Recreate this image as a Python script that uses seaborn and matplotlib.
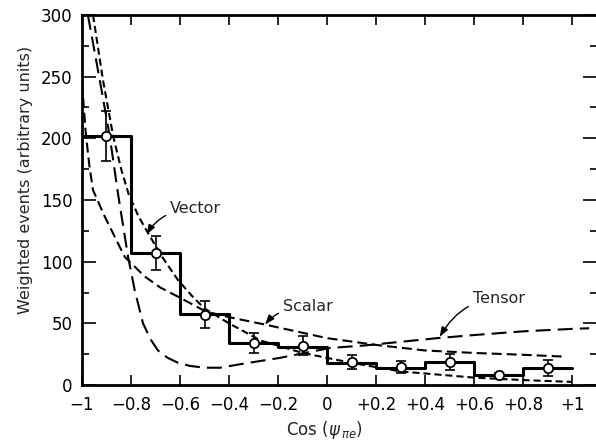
import numpy as np
import pandas as pd
import matplotlib
matplotlib.use("Agg")
import matplotlib.pyplot as plt
import seaborn as sns

# ---------------- data ----------------
bin_edges = [-1.0, -0.8, -0.6, -0.4, -0.2, 0.0, 0.2, 0.4, 0.6, 0.8, 1.0]
bin_centers = [-0.9, -0.7, -0.5, -0.3, -0.1, 0.1, 0.3, 0.5, 0.7, 0.9]
hist_values = [202, 107, 57.5, 34, 31, 18, 14, 18.5, 8, 14]

point_values = [202, 107, 57, 34, 32, 18.5, 14.5, 18.5, 8, 14]
point_errors = [20, 14, 11, 8, 8, 5.5, 5, 6.5, 2, 6.5]

vector_x = [-0.955, -0.915, -0.873, -0.84, -0.81, -0.77, -0.73, -0.67, -0.608,
            -0.55, -0.5, -0.4, -0.27, -0.1, 0.1, 0.3, 0.6, 0.8, 1.0]
vector_y = [300, 248, 202, 175, 155, 137, 123, 103, 85, 72, 62, 50, 36, 26, 18,
            11, 6, 4, 2.5]

scalar_x = [-1.0, -0.985, -0.97, -0.955, -0.907, -0.826, -0.744, -0.68, -0.608,
            -0.494, -0.4, -0.253, 0.0, 0.2, 0.4, 0.6, 0.8, 0.97]
scalar_y = [245, 205, 178, 158, 136.5, 104, 88, 79, 71.6, 59.5, 55, 49, 38,
            32.5, 28, 26, 24.5, 23]

tensor_x = [-0.976, -0.93, -0.887, -0.853, -0.812, -0.785, -0.751, -0.72, -0.69,
            -0.65, -0.608, -0.56, -0.5, -0.437, -0.35, -0.192, 0.012, 0.15,
            0.3, 0.45, 0.6, 0.8, 1.0, 1.07]
tensor_y = [300, 250, 202, 155, 104, 77, 50, 37, 28, 22, 18, 15.5, 14, 14, 17,
            22, 30, 32, 35, 38, 40.5, 43.5, 45.5, 46]

x_ticks = [-1, -0.8, -0.6, -0.4, -0.2, 0, 0.2, 0.4, 0.6, 0.8, 1]
x_ticklabels = ["\u22121", "\u22120.8", "\u22120.6", "\u22120.4", "\u22120.2", "0",
                "+0.2", "+0.4", "+0.6", "+0.8", "+1"]
y_ticks = [0, 50, 100, 150, 200, 250, 300]

# ---------------- style ----------------
sns.set_theme(style="ticks")
plt.rcParams["font.family"] = ["DejaVu Sans"]
plt.rcParams["mathtext.fontset"] = "dejavusans"

fig = plt.figure(figsize=(5.96, 4.40), dpi=100)
ax = fig.add_axes([82 / 596, 55 / 440, (596.5 - 82) / 596, 370 / 440])

# histogram outline
sns.histplot(x=bin_centers, weights=hist_values, bins=bin_edges, element="step",
             fill=False, color="black", linewidth=2.2, ax=ax)

# theory curves
sns.lineplot(x=vector_x, y=vector_y, sort=False, color="black", linewidth=1.5,
             linestyle=(0, (3.4, 1.9)), ax=ax)
sns.lineplot(x=scalar_x, y=scalar_y, sort=False, color="black", linewidth=1.5,
             linestyle=(0, (4.8, 2.4)), ax=ax)
sns.lineplot(x=tensor_x, y=tensor_y, sort=False, color="black", linewidth=1.5,
             linestyle=(0, (7.2, 3.4)), ax=ax)

# data points with error bars
ax.errorbar(bin_centers, point_values, yerr=point_errors, fmt="none",
            ecolor="black", elinewidth=1.2, capsize=3.5, capthick=1.2, zorder=4)
sns.scatterplot(x=bin_centers, y=point_values, s=45, color="white",
                edgecolor="black", linewidth=1.3, zorder=5, ax=ax)

# annotations
arrow = dict(arrowstyle="-|>,head_length=0.5,head_width=0.18", color="black",
             lw=1.0, shrinkA=1, shrinkB=0)
ax.annotate("Vector", xy=(-0.736, 122), xytext=(-0.64, 143),
            fontsize=11.5, va="center", ha="left",
            arrowprops=dict(arrow, connectionstyle="angle3,angleA=0,angleB=60"))
ax.annotate("Scalar", xy=(-0.253, 49), xytext=(-0.18, 64),
            fontsize=11.5, va="center", ha="left",
            arrowprops=dict(arrow, connectionstyle="angle3,angleA=0,angleB=50"))
ax.annotate("Tensor", xy=(0.46, 39), xytext=(0.595, 70),
            fontsize=11.5, va="center", ha="left",
            arrowprops=dict(arrow, connectionstyle="angle3,angleA=0,angleB=60"))

# axes
ax.set_xlim(-1, 1.1)
ax.set_ylim(0, 300)
ax.set_xticks(x_ticks)
ax.set_xticklabels(x_ticklabels)
ax.set_yticks(y_ticks)
ax.set_yticks(np.arange(25, 300, 50), minor=True)
ax.tick_params(axis="both", which="both", direction="in", colors="black",
               labelsize=12)
ax.tick_params(axis="x", which="major", length=7, width=1.2, top=True, pad=8)
ax.tick_params(axis="y", which="major", length=10, width=1.2, right=True, pad=7)
ax.tick_params(axis="y", which="minor", length=5, width=1.2, right=True)
for side in ["left", "bottom", "top"]:
    ax.spines[side].set_linewidth(2)
    ax.spines[side].set_color("black")
ax.spines["right"].set_visible(False)

ax.set_xlabel(r"Cos ($\psi_{\,\pi e}$)", fontsize=12)
ax.set_ylabel("Weighted events (arbitrary units)", fontsize=11.5)
ax.xaxis.set_label_coords(0.472, -0.092)
ax.yaxis.set_label_coords(-0.095, 0.554)

fig.savefig("out.png", dpi=100, facecolor="white")
